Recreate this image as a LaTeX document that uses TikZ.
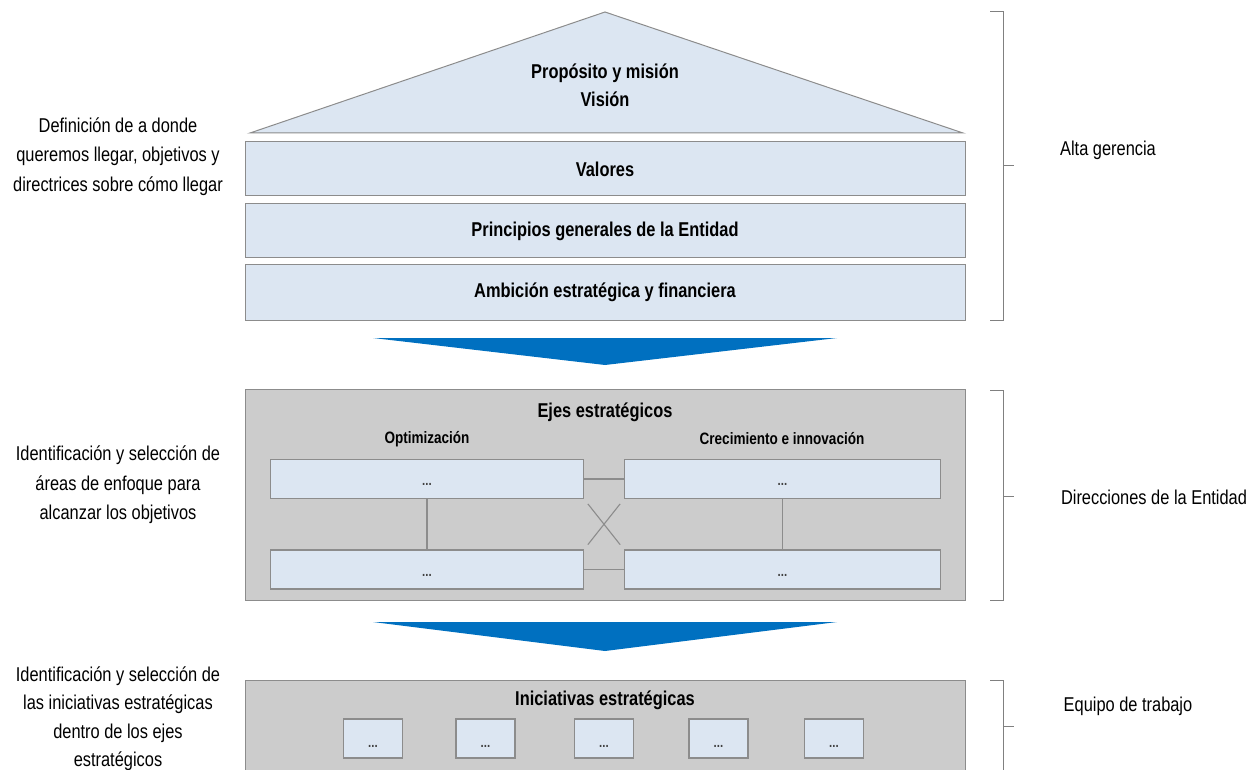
\documentclass[tikz,border=0pt]{standalone}
\usepackage{fontspec}
\setmainfont[FakeStretch=0.82]{Liberation Sans}
\definecolor{boxblue}{HTML}{DCE6F2}
\definecolor{boxline}{HTML}{8C8C8C}
\definecolor{panelgray}{HTML}{CCCCCC}
\definecolor{arrowblue}{HTML}{0070C0}
\definecolor{dotgray}{HTML}{404040}
\begin{document}
\begin{tikzpicture}[x=1pt,y=-1pt,
  layer/.style={draw=boxline, line width=1pt, fill=boxblue, minimum width=720pt, inner sep=0pt,
    font=\bfseries\fontsize{20}{24}\selectfont},
  roof/.style={draw=boxline, line width=1pt, fill=boxblue},
  panel/.style={draw=boxline, line width=1pt, fill=panelgray, minimum width=720pt, inner sep=0pt},
  title/.style={font=\bfseries\fontsize{20}{24}\selectfont, inner sep=0pt},
  subtitle/.style={font=\bfseries\fontsize{16.5}{20}\selectfont, inner sep=0pt},
  cell/.style={draw=boxline, line width=1.3pt, fill=boxblue, minimum height=39pt, inner sep=0pt,
    text height=13pt, text depth=0pt, text=dotgray, font=\bfseries\fontsize{14}{14}\selectfont},
  mini/.style={draw=boxline, line width=1.3pt, fill=boxblue, minimum width=59pt, minimum height=39pt, inner sep=0pt,
    text height=17pt, text depth=0pt, text=dotgray, font=\bfseries\fontsize{14}{14}\selectfont},
  link/.style={draw=boxline, line width=1.1pt},
  bracket/.style={draw=gray, line width=1pt},
  chevron/.style={fill=arrowblue},
  sidelabel/.style={font=\fontsize{20}{29.5}\selectfont, align=center, inner sep=0pt},
  rolelabel/.style={font=\fontsize{20}{24}\selectfont, inner sep=0pt}]
\useasboundingbox (0,0) rectangle (1259,770);
\clip (0,0) rectangle (1259,770);

% --- Top: house ---
\draw[roof] (250,133) -- (605,12) -- (963,133) -- cycle;
\node[font=\bfseries\fontsize{20}{28}\selectfont, align=center] (prop) at (605,85) {Propósito y misión\\Visión};
\node[layer, minimum height=54pt] (valores) at (605,169) {Valores};
\node[layer, minimum height=54pt] (principios) at (605,231) {Principios generales de la Entidad};
\node[layer, minimum height=55pt] (ambicion) at (605,292.5) {Ambición estratégica y financiera};

% --- Chevron 1 ---
\fill[chevron] (373,338) -- (837,338) -- (605,365) -- cycle;

% --- Middle: ejes ---
\node[panel, minimum height=211pt] (ejes) at (605,494.5) {};
\node[title] (ejest) at (605,412) {Ejes estratégicos};
\node[subtitle] (opt) at (427,439) {Optimización};
\node[subtitle] (crec) at (782,439) {Crecimiento e innovación};
\node[cell, minimum width=313pt] (a1) at (427,479) {...};
\node[cell, minimum width=316pt] (a2) at (782.5,479) {...};
\node[cell, minimum width=313pt] (b1) at (427,569.5) {...};
\node[cell, minimum width=316pt] (b2) at (782.5,569.5) {...};
\draw[link] (a1) -- (a2);
\draw[link] (b1) -- (b2);
\draw[link] (a1) -- (b1);
\draw[link] (a2) -- (b2);
\draw[link, shorten <=6pt, shorten >=6pt] (a1.south east) -- (b2.north west);
\draw[link, shorten <=6pt, shorten >=6pt] (a2.south west) -- (b1.north east);

% --- Chevron 2 ---
\fill[chevron] (373,622) -- (837,622) -- (605,651) -- cycle;

% --- Bottom: iniciativas ---
\node[panel, minimum height=120pt] (inic) at (605,740) {};
\node[title] (inict) at (605,700) {Iniciativas estratégicas};
\node[mini] (m1) at (373,738.5) {...};
\node[mini] (m2) at (485.5,738.5) {...};
\node[mini] (m3) at (604,738.5) {...};
\node[mini] (m4) at (718.5,738.5) {...};
\node[mini] (m5) at (834,738.5) {...};

% --- Right brackets and roles ---
\draw[bracket] (990,12) -- (1003,12) -- (1003,320) -- (990,320);
\draw[bracket] (1003,166) -- (1014,166);
\draw[bracket] (990,390) -- (1003,390) -- (1003,600) -- (990,600);
\draw[bracket] (1003,496) -- (1014,496);
\draw[bracket] (990,680) -- (1003,680) -- (1003,790);
\draw[bracket] (1003,726) -- (1014,726);
\node[rolelabel] (alta) at (1108,150) {Alta gerencia};
\node[rolelabel] (dir) at (1154,497) {Direcciones de la Entidad};
\node[rolelabel] (equipo) at (1128,706) {Equipo de trabajo};

% --- Left descriptions ---
\node[sidelabel] (d1) at (118,156.5) {Definición de a donde\\queremos llegar, objetivos y\\directrices sobre cómo llegar};
\node[sidelabel] (d2) at (118,485) {Identificación y selección de\\áreas de enfoque para\\alcanzar los objetivos};
\node[sidelabel, font=\fontsize{20}{28.5}\selectfont] (d3) at (118,718.5) {Identificación y selección de\\las iniciativas estratégicas\\dentro de los ejes\\estratégicos};
\end{tikzpicture}
\end{document}
